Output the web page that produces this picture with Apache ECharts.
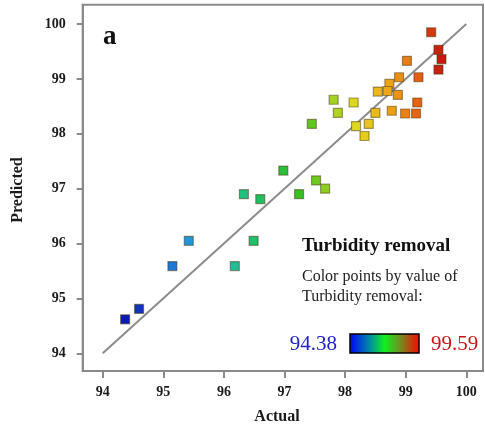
<!DOCTYPE html>
<html>
<head>
<meta charset="utf-8">
<script src="https://cdn.jsdelivr.net/npm/echarts@6/dist/echarts.min.js"></script>
<style>
html,body{margin:0;padding:0;background:#fff;}
#chart{width:485px;height:431px;}
</style>
</head>
<body>
<div id="chart"></div>
<script>
// Data
const actual = [99.42, 99.54, 99.59, 99.54, 99.02, 98.89, 99.21, 98.73, 98.54, 98.70,
                98.87, 97.81, 98.14, 99.19, 97.88, 98.50, 98.77, 98.99, 99.17, 97.45,
                98.18, 98.39, 98.32, 96.98, 97.52, 97.67, 97.24, 96.33, 96.60, 95.42,
                96.49, 95.15, 96.18, 94.60, 94.37];
const predicted = [99.85, 99.53, 99.36, 99.17, 99.33, 99.03, 99.03, 98.91, 98.77, 98.78,
                   98.71, 98.62, 98.57, 98.57, 98.38, 98.38, 98.42, 98.37, 98.37, 98.18,
                   98.14, 98.18, 97.96, 97.33, 97.15, 97.00, 96.90, 96.90, 96.81, 96.05,
                   96.05, 95.59, 95.59, 94.81, 94.62];
const tickValues = [94, 95, 96, 97, 98, 99, 100];
const fitLine = [[94, 94], [100, 100]];
const colorMin = 94.38;
const colorMax = 99.59;

const points = actual.map((a, i) => [a, predicted[i]]);
const serif = "'Liberation Serif', 'DejaVu Serif', serif";

const chart = echarts.init(document.getElementById('chart'), null, {renderer: 'canvas'});
chart.setOption({
  animation: false,
  backgroundColor: '#fff',
  grid: {
    left: 82.7, top: 4.7, right: 2, bottom: 60,
    show: true, borderColor: '#8a8a8a', borderWidth: 2, backgroundColor: 'transparent'
  },
  xAxis: {
    type: 'value', min: 93.67, max: 100.275,
    splitLine: {show: false},
    axisLine: {show: true, lineStyle: {color: '#8a8a8a', width: 2}},
    axisTick: {show: true, customValues: tickValues, length: 7, lineStyle: {color: '#8a8a8a', width: 2}},
    axisLabel: {customValues: tickValues, margin: 14, fontFamily: serif, fontWeight: 'bold', fontSize: 14, color: '#1a1a1a'}
  },
  yAxis: {
    type: 'value', min: 93.678, max: 100.352,
    splitLine: {show: false},
    axisLine: {show: true, lineStyle: {color: '#8a8a8a', width: 2}},
    axisTick: {show: true, customValues: tickValues, length: 6, lineStyle: {color: '#8a8a8a', width: 2}},
    axisLabel: {customValues: tickValues, margin: 17, fontFamily: serif, fontWeight: 'bold', fontSize: 14, color: '#1a1a1a'}
  },
  visualMap: {
    show: false, type: 'continuous', seriesIndex: 0, dimension: 0,
    min: colorMin, max: colorMax,
    inRange: {color: ['#0a1cb0', '#1a50d0', '#2090d8', '#28b0d8', '#20c088', '#20c050', '#34c020', '#90d020', '#e0d820', '#ecb018', '#e87014', '#c81810']}
  },
  series: [
    {
      type: 'scatter', data: points, symbol: 'rect', symbolSize: 9, z: 3,
      itemStyle: {borderColor: 'rgba(60,40,0,0.45)', borderWidth: 1.2, opacity: 1}
    },
    {
      type: 'line', data: fitLine, showSymbol: false, symbol: 'none', z: 2,
      lineStyle: {color: '#8c8c8c', width: 2}, silent: true
    }
  ],
  graphic: [
    {type: 'text', left: 103, top: 24, style: {text: 'a', font: "bold 27px " + serif, fill: '#111'}},
    {type: 'text', x: 277, y: 417, style: {text: 'Actual', font: "bold 16px " + serif, fill: '#1a1a1a', align: 'center', verticalAlign: 'middle'}},
    {type: 'text', x: 18, y: 190, rotation: Math.PI / 2, style: {text: 'Predicted', font: "bold 16px " + serif, fill: '#1a1a1a', align: 'center', verticalAlign: 'middle'}},
    {type: 'text', x: 302, y: 246, style: {text: 'Turbidity removal', font: "bold 19px " + serif, fill: '#111', verticalAlign: 'middle'}},
    {type: 'text', x: 302, y: 277, style: {text: 'Color points by value of', font: "16px " + serif, fill: '#222', verticalAlign: 'middle'}},
    {type: 'text', x: 302, y: 297, style: {text: 'Turbidity removal:', font: "16px " + serif, fill: '#222', verticalAlign: 'middle'}},
    {type: 'text', x: 337, y: 344, style: {text: String(colorMin), font: "21px " + serif, fill: '#1f22c8', align: 'right', verticalAlign: 'middle'}},
    {type: 'text', x: 431, y: 344, style: {text: String(colorMax), font: "21px " + serif, fill: '#c8141a', align: 'left', verticalAlign: 'middle'}},
    {type: 'rect', shape: {x: 350, y: 334, width: 69, height: 19},
     style: {
       fill: new echarts.graphic.LinearGradient(0, 0, 1, 0, [
         {offset: 0, color: '#0000ff'},
         {offset: 0.3, color: '#0090a0'},
         {offset: 0.5, color: '#10f020'},
         {offset: 0.72, color: '#709020'},
         {offset: 1, color: '#ff0000'}
       ]),
       stroke: '#000', lineWidth: 1.5
     }}
  ]
});
</script>
</body>
</html>
